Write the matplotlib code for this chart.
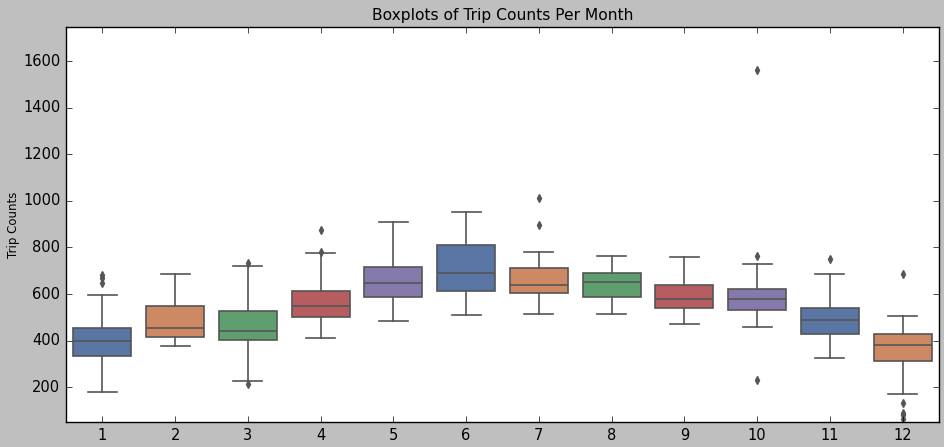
import matplotlib
matplotlib.use("Agg")
import matplotlib.pyplot as plt
import colorsys
import matplotlib.colors as mcolors

plt.style.use("classic")

months = ["1", "2", "3", "4", "5", "6", "7", "8", "9", "10", "11", "12"]
whislo = [180, 377, 226, 412, 483, 510, 515, 513, 472, 460, 324, 170]
q1 = [333, 415, 404, 503, 586, 613, 606, 586, 540, 533, 430, 313]
med = [397, 453, 443, 548, 646, 689, 640, 651, 580, 578, 488, 380]
q3 = [453, 548, 529, 612, 718, 809, 713, 692, 639, 623, 540, 430]
whishi = [597, 685, 719, 775, 911, 951, 779, 765, 761, 730, 685, 506]
fliers = [
    [682, 671, 649],
    [],
    [735, 213],
    [874, 781],
    [],
    [],
    [1014, 897],
    [],
    [],
    [1563, 765, 230],
    [749],
    [685, 131, 91, 80, 63],
]

base_palette = ["#4C72B0", "#DD8452", "#55A868", "#C44E52", "#8172B3"]


def desaturate(c, prop=0.75):
    r, g, b = mcolors.to_rgb(c)
    h, l, s = colorsys.rgb_to_hls(r, g, b)
    return colorsys.hls_to_rgb(h, l, s * prop)


colors = [desaturate(base_palette[i % 5]) for i in range(len(months))]
line_gray = "#555555"

stats = []
for i, m in enumerate(months):
    stats.append(dict(label=m, whislo=whislo[i], q1=q1[i], med=med[i],
                      q3=q3[i], whishi=whishi[i], fliers=fliers[i]))

fig = plt.figure(figsize=(9.44, 4.47), dpi=100, facecolor="#bfbfbf")
ax = fig.add_axes([0.0699, 0.0553, 0.9248, 0.8837])
ax.set_facecolor("white")
for s in ax.spines.values():
    s.set_linewidth(1.0)

positions = list(range(len(months)))
bp = ax.bxp(stats, positions=positions, widths=0.8, patch_artist=True,
            boxprops=dict(edgecolor=line_gray, linewidth=1.2),
            medianprops=dict(color=line_gray, linewidth=1.2),
            whiskerprops=dict(color=line_gray, linewidth=1.2, linestyle="-"),
            capprops=dict(color=line_gray, linewidth=1.2),
            flierprops=dict(marker="d", markerfacecolor=line_gray,
                            markeredgecolor=line_gray, markersize=4),
            manage_ticks=False)
for patch, c in zip(bp["boxes"], colors):
    patch.set_facecolor(c)

for cap in bp["caps"]:
    x = cap.get_xdata()
    mid = (x[0] + x[1]) / 2
    cap.set_xdata([mid - 0.2, mid + 0.2])

ax.set_xlim(-0.5, len(months) - 0.5)
ax.set_ylim(50, 1745)
ax.set_xticks(positions)
ax.set_xticklabels(months)
ax.set_yticks([200, 400, 600, 800, 1000, 1200, 1400, 1600])
ax.tick_params(labelsize=10.5, direction="in", top=True, right=True,
               labelright=False, labeltop=False)
ax.set_title("Boxplots of Trip Counts Per Month", fontsize=11.2)
ax.set_ylabel("Trip Counts", fontsize=8.5)
ax.yaxis.set_label_coords(-0.053, 0.5)

fig.savefig("out.png", dpi=100, facecolor=fig.get_facecolor())
